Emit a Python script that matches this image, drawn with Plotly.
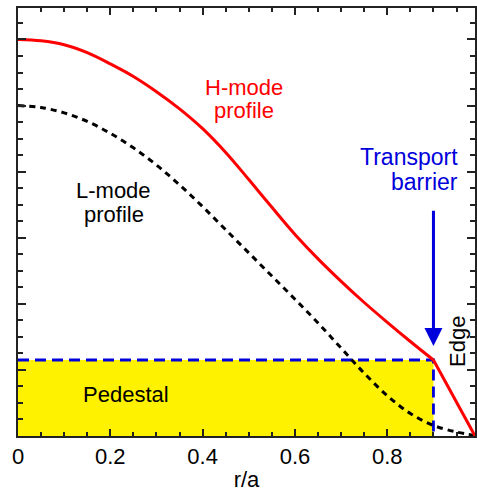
import plotly.graph_objects as go

# ---- data ----
r_h = [0.0, 0.05, 0.1, 0.15, 0.2, 0.25, 0.3, 0.35, 0.4, 0.45, 0.5, 0.55, 0.6, 0.65, 0.7, 0.75, 0.8, 0.85, 0.9]
h_mode = [6.0, 5.98, 5.92, 5.8, 5.63, 5.44, 5.21, 4.95, 4.65, 4.29, 3.88, 3.46, 3.05, 2.68, 2.34, 2.02, 1.72, 1.43, 1.15]
r_edge = [0.9, 0.99]
h_edge = [1.15, 0.0]
r_l = [0.0, 0.05, 0.1, 0.15, 0.2, 0.25, 0.3, 0.35, 0.4, 0.45, 0.5, 0.55, 0.6, 0.65, 0.7, 0.75, 0.8, 0.85, 0.9, 0.95, 0.99]
l_mode = [5.0, 4.97, 4.89, 4.76, 4.58, 4.36, 4.1, 3.8, 3.47, 3.12, 2.77, 2.42, 2.07, 1.71, 1.33, 0.95, 0.61, 0.34, 0.16, 0.06, 0.01]
ped_r = 0.9
ped_h = 1.15
x_ticks = [0, 0.2, 0.4, 0.6, 0.8]
x_ticklabels = ["0", "0.2", "0.4", "0.6", "0.8"]
arrow_from = 3.43
arrow_to = 1.36

FONT = "Liberation Sans, Arial, Helvetica, sans-serif"
RED = "#FF0000"
BLUE = "#0000DD"
YELLOW = "#FFF200"

fig = go.Figure()

fig.add_trace(go.Scatter(x=[0, ped_r, ped_r, 0, 0], y=[0, 0, ped_h, ped_h, 0],
                         fill="toself", fillcolor=YELLOW, mode="none",
                         hoverinfo="skip", showlegend=False))
fig.add_trace(go.Scatter(x=[0, ped_r, ped_r], y=[ped_h, ped_h, 0], mode="lines",
                         line=dict(color=BLUE, width=2.8, dash="11px,6px"),
                         showlegend=False))
fig.add_trace(go.Scatter(x=r_l, y=l_mode, mode="lines",
                         line=dict(color="black", width=3, dash="6px,5px", shape="spline", smoothing=1),
                         showlegend=False))
fig.add_trace(go.Scatter(x=r_h, y=h_mode, mode="lines",
                         line=dict(color=RED, width=3, shape="spline", smoothing=1),
                         showlegend=False))
fig.add_trace(go.Scatter(x=r_edge, y=h_edge, mode="lines",
                         line=dict(color=RED, width=3), showlegend=False))

def txt(x, y, s, color="black", xanchor="center", angle=0, size=22):
    fig.add_annotation(x=x, y=y, text=s, showarrow=False, xanchor=xanchor, yanchor="middle",
                       textangle=angle, borderpad=0,
                       font=dict(family=FONT, size=size, color=color))

txt(0.49, 5.28, "H-mode", RED)
txt(0.49, 4.92, "profile", RED)
txt(0.207, 3.71, "L-mode")
txt(0.207, 3.35, "profile")
txt(0.9555, 4.22, "Transport", BLUE, xanchor="right", size=23)
txt(0.9555, 3.85, "barrier", BLUE, xanchor="right", size=23)
txt(0.233, 0.63, "Pedestal")
txt(0.952, 1.43, "Edge", angle=-90)

fig.add_annotation(x=ped_r, y=arrow_to, ax=ped_r, ay=arrow_from, axref="x", ayref="y",
                   showarrow=True, arrowhead=2, arrowwidth=3, arrowsize=1.2,
                   arrowcolor=BLUE, text="")

axis_common = dict(showline=True, linecolor="#222", linewidth=1.5, mirror="ticks",
                   ticks="inside", tickcolor="#222", tickwidth=1.5, showgrid=False,
                   zeroline=False)

fig.update_xaxes(range=[0, 0.99], tickvals=x_ticks, ticktext=x_ticklabels, ticklen=7,
                 minor=dict(ticks="inside", dtick=0.05, tick0=0, ticklen=4, tickcolor="#222", tickwidth=1.5, showgrid=False),
                 tickfont=dict(family=FONT, size=22, color="black"),
                 title=dict(text="r/a", font=dict(family=FONT, size=22, color="black"), standoff=4),
                 **axis_common)
fig.update_yaxes(range=[0, 6.476], dtick=1, tick0=0, ticklen=8, showticklabels=False,
                 minor=dict(ticks="inside", dtick=0.25, tick0=0, ticklen=5, tickcolor="#222", tickwidth=1.5, showgrid=False),
                 **axis_common)

fig.update_layout(width=477, height=492, margin=dict(l=18, r=0, t=8, b=56),
                  plot_bgcolor="white", paper_bgcolor="white", showlegend=False)

fig.write_html("out.html", config={"responsive": False, "displayModeBar": False},
               post_script="document.body.style.margin='0';document.body.style.overflow='hidden';")
